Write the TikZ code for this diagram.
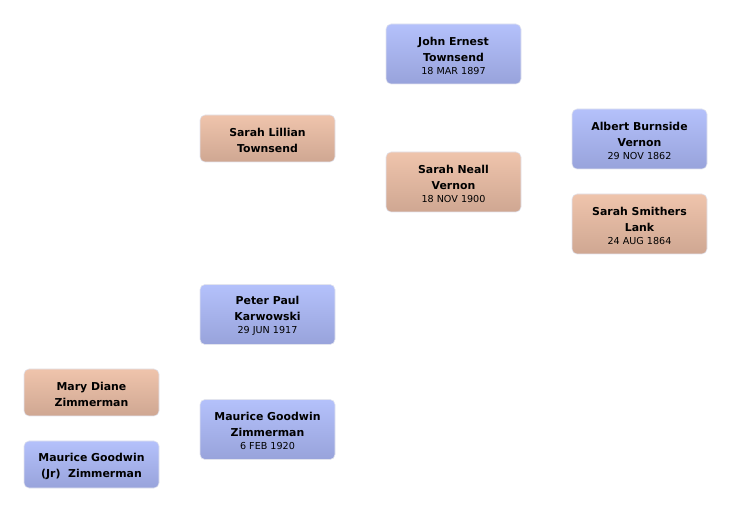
\documentclass[tikz,border=0pt]{standalone}
\usepackage{fontspec}
\setmainfont{DejaVu Sans}
\definecolor{mtop}{HTML}{B4C1FB}
\definecolor{mbot}{HTML}{98A3DB}
\definecolor{ftop}{HTML}{EFC4AC}
\definecolor{fbot}{HTML}{CFA792}
\definecolor{edge}{HTML}{E2E4EE}
\tikzset{
  x=1pt,y=-1pt,
  person/.style={rounded corners=5pt, draw=edge, line width=0.6pt, align=center,
    minimum width=135pt, inner sep=0pt, font=\bfseries\fontsize{10.9}{16}\selectfont},
  male/.style={person, top color=mtop, bottom color=mbot},
  female/.style={person, top color=ftop, bottom color=fbot},
  tall/.style={minimum height=60pt},
  short/.style={minimum height=47pt},
}
\newcommand{\pdate}[1]{\\[-3pt]{\mdseries\fontsize{9.6}{11}\selectfont #1}}
\newcommand{\tp}{\rule{0pt}{11.5pt}}
\begin{document}
\begin{tikzpicture}
\useasboundingbox (0,0) rectangle (732,513);
\node[male,tall]   (john)    at (453.5,54)  {\tp John Ernest\\Townsend\pdate{18 MAR 1897}};
\node[female,short](sarahL)  at (267.5,138.5) {\tp Sarah Lillian\\Townsend};
\node[male,tall]   (albert)  at (639.5,139) {\tp Albert Burnside\\Vernon\pdate{29 NOV 1862}};
\node[female,tall] (sarahN)  at (453.5,182) {\tp Sarah Neall\\Vernon\pdate{18 NOV 1900}};
\node[female,tall] (sarahS)  at (639.5,224) {\tp Sarah Smithers\\Lank\pdate{24 AUG 1864}};
\node[male,tall]   (peter)   at (267.5,314.5) {\tp Peter Paul\\Karwowski\pdate{29 JUN 1917}};
\node[female,short](mary)    at (91.5,392.5) {\tp Mary Diane\\Zimmerman};
\node[male,tall]   (maurice) at (267.5,429.5) {\tp Maurice Goodwin\\Zimmerman\pdate{6 FEB 1920}};
\node[male,short]  (mauriceJ) at (91.5,464.5) {\tp Maurice Goodwin\\(Jr)\ \ Zimmerman};
\end{tikzpicture}
\end{document}
